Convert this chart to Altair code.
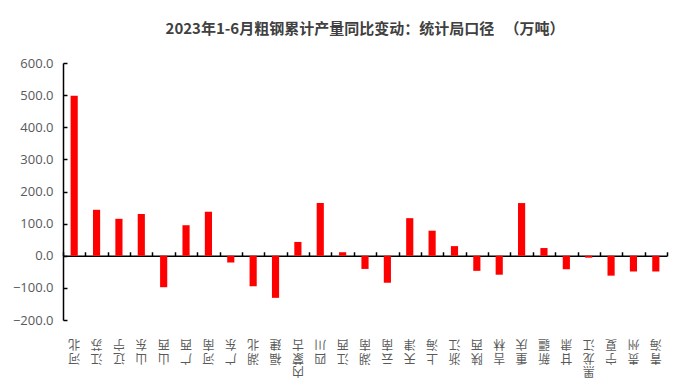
import altair as alt
import pandas as pd

provinces = ["河北", "江苏", "辽宁", "山东", "山西", "广西", "河南", "广东", "湖北", "福建",
             "内蒙古", "四川", "江西", "湖南", "云南", "天津", "上海", "浙江", "陕西", "吉林",
             "重庆", "新疆", "甘肃", "黑龙江", "宁夏", "贵州", "青海"]
values = [498, 143, 115, 130, -98, 95, 137, -21, -95, -131,
          43, 164, 11, -41, -84, 117, 78, 30, -47, -59,
          164, 24, -42, -6, -62, -49, -49]
y_ticks = [-200, -100, 0, 100, 200, 300, 400, 500, 600]

df = pd.DataFrame({"province": provinces, "value": values})

# one row per character of each category label (stacked vertical label, rotated 180°)
char_rows = []
for p in provinces:
    n = len(p)
    for i, ch in enumerate(p):
        char_rows.append({"province": p, "ch": ch, "k": n - 1 - i})
df_chars = pd.DataFrame(char_rows)

FONT = "Noto Sans CJK SC"
NUMFONT = "Open Sans"
W, H = 604, 257

x_scale = alt.Scale(paddingInner=0, paddingOuter=0)
y_scale = alt.Scale(domain=[-200, 600], nice=False, zero=False)

bars = alt.Chart(df).mark_bar(color="#FF0000", width=alt.RelativeBandSize(0.32)).encode(
    x=alt.X("province:N", sort=provinces, scale=x_scale, title=None,
            axis=alt.Axis(orient="bottom", domain=False, ticks=False, labels=False)),
    y=alt.Y("value:Q", scale=y_scale, title=None,
            axis=alt.Axis(orient="left", values=y_ticks, format=".1f", grid=False,
                          ticks=False, domain=True, domainColor="#000000", domainWidth=1.5,
                          labelFont=NUMFONT, labelFontSize=13, labelColor="#595959",
                          labelPadding=10)),
)

labels = alt.Chart(df_chars).transform_calculate(
    py=f"{H} + 24 + datum.k * 13.5"
).mark_text(angle=180, baseline="middle", align="center",
            font=FONT, fontSize=12, color="#595959").encode(
    x=alt.X("province:N", sort=provinces, scale=x_scale, axis=None),
    y=alt.Y("py:Q", scale=None, axis=None),
    text="ch:N",
)

frame = alt.Chart(df).mark_bar(opacity=0, width=alt.RelativeBandSize(0.32)).encode(
    x=alt.X("province:N", sort=provinces, scale=x_scale, title=None,
            axis=alt.Axis(orient="top", offset=-(H * 600 / 800), labels=False,
                          domain=True, domainColor="#000000", domainWidth=1.5,
                          ticks=True, tickColor="#000000", tickSize=4, tickWidth=1.5,
                          tickBand="extent")),
    y=alt.Y("value:Q", scale=y_scale, title=None,
            axis=alt.Axis(orient="right", offset=-W, values=y_ticks, labels=False,
                          grid=False, domain=False, ticks=True, tickColor="#000000",
                          tickSize=4, tickWidth=1.5)),
)

chart = alt.layer(frame, bars, labels).resolve_axis(x="independent", y="independent").resolve_scale(y="independent").properties(
    width=W, height=H,
    padding={"left": 4, "top": 14, "right": 5, "bottom": 5},
    title=alt.TitleParams("2023年1-6月粗钢累计产量同比变动：统计局口径\u00a0\u00a0\u00a0（万吨）",
                          font=FONT, fontSize=15, fontWeight="bold", color="#404040",
                          anchor="middle", offset=20),
).configure_view(stroke=None)

chart.save("out.html", embed_options={"renderer": "svg", "actions": False})
